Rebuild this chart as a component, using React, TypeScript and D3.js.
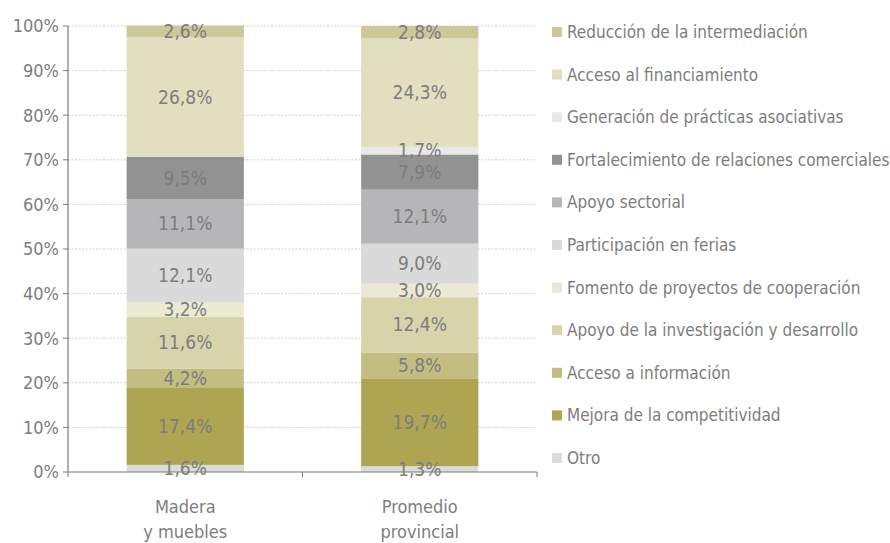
import React from "react";
import * as d3 from "d3";

const categories = ["Madera\ny muebles", "Promedio\nprovincial"];
const seriesNames = [
  "Otro",
  "Mejora de la competitividad",
  "Acceso a información",
  "Apoyo de la investigación y desarrollo",
  "Fomento de proyectos de cooperación",
  "Participación en ferias",
  "Apoyo sectorial",
  "Fortalecimiento de relaciones comerciales",
  "Generación de prácticas asociativas",
  "Acceso al financiamiento",
  "Reducción de la intermediación",
];
const maderaValues = [1.6, 17.4, 4.2, 11.6, 3.2, 12.1, 11.1, 9.5, 0, 26.8, 2.6];
const promedioValues = [1.3, 19.7, 5.8, 12.4, 3.0, 9.0, 12.1, 7.9, 1.7, 24.3, 2.8];
const seriesColors = [
  "#dcdcdc",
  "#ada551",
  "#c4bd82",
  "#d7d4ab",
  "#ebe9d4",
  "#dadada",
  "#b6b6b8",
  "#929292",
  "#e8e8e8",
  "#e2dfc1",
  "#ccc89a",
];
const yTicks = [0, 10, 20, 30, 40, 50, 60, 70, 80, 90, 100];

const FONT = "'DejaVu Sans Condensed', 'DejaVu Sans', sans-serif";
const TEXT = "#7d7d7d";

export default function App() {
  const W = 890, H = 543;
  const left = 68, right = 537, top = 26, bottom = 472;
  const x = d3.scaleBand<string>().domain(categories).range([left, right]).paddingInner(0.5).paddingOuter(0.25);
  const y = d3.scaleLinear().domain([0, 100]).range([bottom, top]);
  const valuesByCat = [maderaValues, promedioValues];

  const fmt = (v: number) => v.toFixed(1).replace(".", ",") + "%";

  return (
    <svg width={W} height={H} style={{ position: "absolute", left: 0, top: 0, fontFamily: FONT, fontStretch: "condensed" }}>
      <rect width={W} height={H} fill="#fff" />
      {yTicks.map((t) => (
        <g key={t}>
          {t > 0 && (
            <line x1={left} x2={right} y1={y(t)} y2={y(t)} stroke="#c4c4c4" strokeWidth={0.8} strokeDasharray="2,1.5" />
          )}
          <line x1={left - 5} x2={left} y1={y(t)} y2={y(t)} stroke="#7a7a7a" strokeWidth={1} />
          <text x={left - 9} y={y(t)} dy="0.35em" textAnchor="end" fontSize={18} fill={TEXT}>
            {t}%
          </text>
        </g>
      ))}
      {categories.map((c, ci) => {
        const vals = valuesByCat[ci];
        const stacked = d3.cumsum(vals);
        return (
          <g key={c}>
            {vals.map((v, si) => {
              if (v <= 0) return null;
              const y0 = stacked[si] - v;
              const y1 = stacked[si];
              return (
                <rect key={si} x={x(c)!} width={x.bandwidth()} y={y(y1)} height={y(y0) - y(y1)} fill={seriesColors[si]} />
              );
            })}
            {vals.map((v, si) => {
              if (v <= 0) return null;
              const mid = stacked[si] - v / 2;
              return (
                <text key={"t" + si} x={x(c)! + x.bandwidth() / 2} y={y(mid)} dy="0.35em" textAnchor="middle" fontSize={19} fill={TEXT}>
                  {fmt(v)}
                </text>
              );
            })}
            {c.split("\n").map((line, li) => (
              <text key={"l" + li} x={x(c)! + x.bandwidth() / 2} y={507 + li * 25} dy="0.35em" textAnchor="middle" fontSize={18} fill={TEXT}>
                {line}
              </text>
            ))}
          </g>
        );
      })}
      <line x1={left} x2={left} y1={top} y2={bottom} stroke="#7a7a7a" strokeWidth={1.2} />
      <line x1={left} x2={right} y1={bottom} y2={bottom} stroke="#7a7a7a" strokeWidth={1.2} />
      {[left, (left + right) / 2, right].map((tx, i) => (
        <line key={i} x1={tx} x2={tx} y1={bottom} y2={bottom + 5} stroke="#7a7a7a" strokeWidth={1} />
      ))}
      {seriesNames.slice().reverse().map((name, i) => {
        const si = seriesNames.length - 1 - i;
        const ly = 32 + i * 42.6;
        return (
          <g key={name}>
            <rect x={552} y={ly - 5} width={10} height={10} fill={seriesColors[si]} />
            <text x={567} y={ly} dy="0.35em" fontSize={17} fill={TEXT}>
              {name}
            </text>
          </g>
        );
      })}
    </svg>
  );
}
